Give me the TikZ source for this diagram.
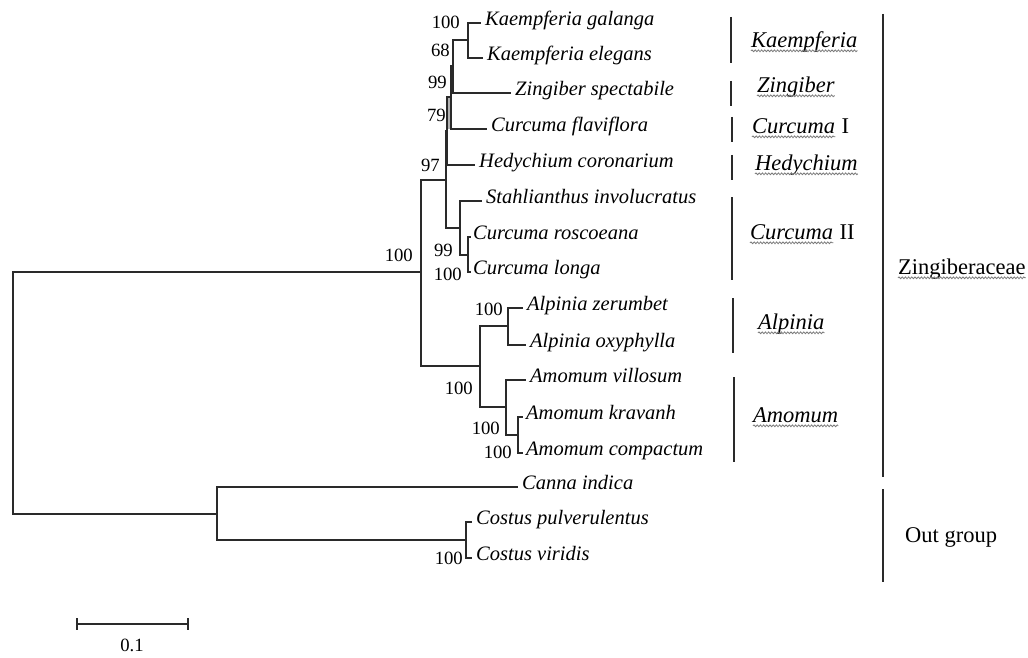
\documentclass[tikz,border=0pt]{standalone}
\usepackage{fontspec}
\setmainfont{Liberation Serif}
\usetikzlibrary{decorations.pathmorphing}
\definecolor{lc}{HTML}{2A2A2A}
\definecolor{wc}{HTML}{7A7A7A}
\begin{document}
\begin{tikzpicture}[x=1pt,y=-1pt,
  br/.style={line width=2pt, draw=lc, line cap=rect},
  leaf/.style={anchor=mid west, inner sep=0pt, font=\fontsize{20.5}{24}\selectfont\itshape},
  bs/.style={anchor=east, inner sep=0pt, font=\fontsize{18.7}{22}\selectfont},
  grp/.style={anchor=mid west, inner sep=0pt, font=\fontsize{22.5}{26}\selectfont\itshape},
  grpr/.style={anchor=mid west, inner sep=0pt, font=\fontsize{22.5}{26}\selectfont},
  gline/.style={line width=2pt, draw=lc},
  wav/.style={draw=wc, line width=0.8pt, decorate, decoration={snake, amplitude=0.9pt, segment length=3.2pt}},
]
\useasboundingbox (0,0) rectangle (1028,658);
\fill[white] (0,0) rectangle (1028,658);

% internal nodes
\coordinate (R) at (13,393);
\coordinate (ZN) at (421,272);
\coordinate (X) at (446,180);
\coordinate (A) at (447,131);
\coordinate (B) at (451,97);
\coordinate (C) at (453,66);
\coordinate (K) at (468,40);
\coordinate (S) at (460,228);
\coordinate (Z) at (468,255);
\coordinate (AA) at (480,366);
\coordinate (Alp) at (508,326);
\coordinate (Am) at (506,407);
\coordinate (KC) at (518,435);
\coordinate (OG) at (217,514);
\coordinate (CO) at (466,540);

% leaves
\node[leaf] (l1) at (485,23) {Kaempferia galanga};
\node[leaf] (l2) at (487,58) {Kaempferia elegans};
\node[leaf] (l3) at (515,93) {Zingiber spectabile};
\node[leaf] (l4) at (491,129) {Curcuma flaviflora};
\node[leaf] (l5) at (479,165) {Hedychium coronarium};
\node[leaf] (l6) at (486,201) {Stahlianthus involucratus};
\node[leaf] (l7) at (473,237) {Curcuma roscoeana};
\node[leaf] (l8) at (473,272) {Curcuma longa};
\node[leaf] (l9) at (527,308) {Alpinia zerumbet};
\node[leaf] (l10) at (530,345) {Alpinia oxyphylla};
\node[leaf] (l11) at (530,380) {Amomum villosum};
\node[leaf] (l12) at (526,417) {Amomum kravanh};
\node[leaf] (l13) at (526,453) {Amomum compactum};
\node[leaf] (l14) at (522,487) {Canna indica};
\node[leaf] (l15) at (476,522) {Costus pulverulentus};
\node[leaf] (l16) at (476,558) {Costus viridis};

% gray overlap of the close verticals
\fill[gray!60] (447,97) rectangle (451,129);

% branches
\draw[br] (R) |- (ZN);
\draw[br] (R) |- (OG);
\draw[br] (ZN) |- (X);
\draw[br] (ZN) |- (AA);
\draw[br] (X) |- (A);
\draw[br] (X) |- (S);
\draw[br] (A) |- ([xshift=-5pt]l5.mid west);
\draw[br] (A) |- (B);
\draw[br] (B) |- (C);
\draw[br] (B) |- ([xshift=-5pt]l4.mid west);
\draw[br] (C) |- (K);
\draw[br] (C) |- ([xshift=-5pt]l3.mid west);
\draw[br] (K) |- ([xshift=-5pt]l1.mid west);
\draw[br] (K) |- ([xshift=-5pt]l2.mid west);
\draw[br] (S) |- ([xshift=-5pt]l6.mid west);
\draw[br] (S) |- (Z);
\draw[br] (Z) |- ([xshift=-3pt]l7.mid west);
\draw[br] (Z) |- ([xshift=-3pt]l8.mid west);
\draw[br] (AA) |- (Alp);
\draw[br] (AA) |- (Am);
\draw[br] (Alp) |- ([xshift=-5pt]l9.mid west);
\draw[br] (Alp) |- ([xshift=-5pt]l10.mid west);
\draw[br] (Am) |- ([xshift=-5pt]l11.mid west);
\draw[br] (Am) |- (KC);
\draw[br] (KC) |- ([xshift=-4pt]l12.mid west);
\draw[br] (KC) |- ([xshift=-4pt]l13.mid west);
\draw[br] (OG) |- ([xshift=-5pt]l14.mid west);
\draw[br] (OG) |- (CO);
\draw[br] (CO) |- ([xshift=-5pt]l15.mid west);
\draw[br] (CO) |- ([xshift=-5pt]l16.mid west);

% bootstrap values
\node[bs] (b1) at (460,22) {100};
\node[bs] (b2) at (450,50) {68};
\node[bs] (b3) at (447,82) {99};
\node[bs] (b4) at (446,115) {79};
\node[bs] (b5) at (440,165) {97};
\node[bs] (b6) at (413,255) {100};
\node[bs] (b7) at (453,250) {99};
\node[bs] (b8) at (462,274) {100};
\node[bs] (b9) at (503,309) {100};
\node[bs] (b10) at (473,388) {100};
\node[bs] (b11) at (500,428) {100};
\node[bs] (b12) at (512,452) {100};
\node[bs] (b13) at (463,558) {100};

% group bars
\coordinate (g1t) at (731,17);  \coordinate (g1b) at (731,63);
\coordinate (g2t) at (731,81);  \coordinate (g2b) at (731,106);
\coordinate (g3t) at (732,117); \coordinate (g3b) at (732,142);
\coordinate (g4t) at (732,155); \coordinate (g4b) at (732,180);
\coordinate (g5t) at (732,197); \coordinate (g5b) at (732,280);
\coordinate (g6t) at (733,298); \coordinate (g6b) at (733,353);
\coordinate (g7t) at (734,377); \coordinate (g7b) at (734,462);
\coordinate (g8t) at (883,14);  \coordinate (g8b) at (883,477);
\coordinate (g9t) at (883,489); \coordinate (g9b) at (883,582);
\foreach \g in {1,...,9} \draw[gline] (g\g t) -- (g\g b);

% group labels
\node[grp] (n1) at (751,45) {Kaempferia};
\node[grp] (n2) at (757,90) {Zingiber};
\node[grp] (n3) at (752,131) {Curcuma};
\node[grpr, anchor=base west] (n3r) at ([xshift=6pt]n3.base east) {I};
\node[grp] (n4) at (755,168) {Hedychium};
\node[grp] (n5) at (750,237) {Curcuma};
\node[grpr, anchor=base west] (n5r) at ([xshift=6pt]n5.base east) {II};
\node[grp] (n6) at (758,327) {Alpinia};
\node[grp] (n7) at (753,420) {Amomum};
\node[grpr] (n8) at (898,272) {Zingiberaceae};
\node[grpr] (n9) at (905,540) {Out group};

\foreach \n in {n1,n2,n3,n4,n5,n6,n7,n8}
  \draw[wav] ([yshift=-3.5pt]\n.base west) -- ([yshift=-3.5pt]\n.base east);

% scale bar
\coordinate (s1) at (77,624);
\coordinate (s2) at (188,624);
\draw[br, line cap=butt] (s1) -- (s2);
\draw[br, line cap=butt] ([yshift=6pt]s1) -- ([yshift=-6pt]s1);
\draw[br, line cap=butt] ([yshift=6pt]s2) -- ([yshift=-6pt]s2);
\node[bs, anchor=center] (sl) at (132,645) {0.1};
\end{tikzpicture}
\end{document}
